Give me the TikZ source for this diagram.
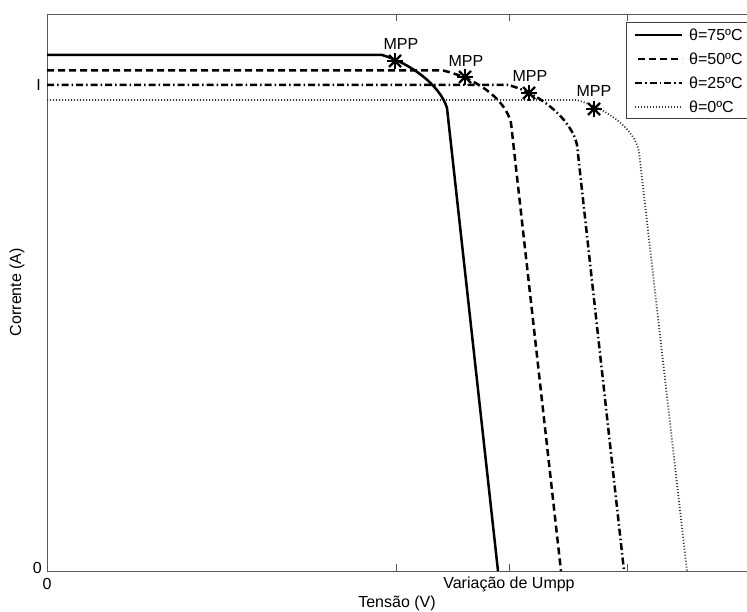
\documentclass[tikz,border=0pt]{standalone}
\usepackage{fontspec}
\setmainfont{Liberation Sans}
\usetikzlibrary{calc}
\begin{document}
\begin{tikzpicture}[x=1pt,y=-1pt,
  every node/.style={font=\fontsize{16}{18}\selectfont, inner sep=0pt},
  axisline/.style={draw=black!65, line width=0.9pt},
  tick/.style={draw=black!65, line width=0.8pt},
  c75/.style={line width=2.5pt, black},
  c50/.style={line width=2.5pt, black, dash pattern=on 7pt off 4pt},
  c25/.style={line width=2.5pt, black, dash pattern=on 7pt off 3pt on 1.5pt off 3pt},
  c0/.style={line width=1.8pt, black!80, dash pattern=on 1pt off 2pt},
  mppstar/.style={line width=2.2pt, black},
  legbox/.style={draw=black!75, fill=white, line width=0.9pt}]
\useasboundingbox (0,0) rectangle (747,612);
\clip (0,0) rectangle (747,612);
\fill[white] (0,0) rectangle (747,612);
% axes box
\draw[axisline] (47,14) rectangle (752,571);
\foreach \tx in {396,509,627}{
  \draw[tick] (\tx,14) -- (\tx,21);
  \draw[tick] (\tx,571) -- (\tx,564);
}
\draw[tick] (47,85) -- (54,85);
% curves
\draw[c0] (47,100) -- (577,100) .. controls (605,108) and (635,128) .. (639,152) -- (687,571);
\draw[c25] (47,85) -- (508,85) .. controls (540,93) and (572,120) .. (577,145) -- (624,571);
\draw[c50] (47,70.5) -- (443,70.5) .. controls (475,78) and (505,98) .. (511,123) -- (561,571);
\draw[c75] (47,55) -- (382,55) .. controls (410,63) and (440,85) .. (447,108) -- (498,571);
% MPP stars
\foreach \n/\sx/\sy in {s1/395/61, s2/465/77, s3/529/93, s4/594/109}{
  \coordinate (\n) at (\sx,\sy);
  \draw[mppstar] ($(\n)+(0,-8)$) -- ($(\n)+(0,8)$);
  \draw[mppstar] ($(\n)+(-8,0)$) -- ($(\n)+(8,0)$);
  \draw[mppstar] ($(\n)+(-6,-6)$) -- ($(\n)+(6,6)$);
  \draw[mppstar] ($(\n)+(-6,6)$) -- ($(\n)+(6,-6)$);
}
\node (m1) at (401,44) {MPP};
\node (m2) at (466,61) {MPP};
\node (m3) at (530,76) {MPP};
\node (m4) at (594,91) {MPP};
% tick labels
\node[anchor=east] (yI) at (41,85) {I};
\node[anchor=east] (y0) at (42,568) {0};
\node (x0) at (47,584) {0};
\node (xu) at (509,584) {Variação de Umpp};
\node (xl) at (397,603) {Tensão (V)};
\node[rotate=90] (yl) at (17,292) {Corrente (A)};
% legend
\draw[legbox] (626,22) rectangle (770,118);
\draw[c75] (635,35) -- (682,35);
\draw[c50] (638,59) -- (682,59);
\draw[c25] (635,83) -- (682,83);
\draw[c0] (635,107) -- (682,107);
\node[anchor=west] (l1) at (689,35) {θ=75ºC};
\node[anchor=west] (l2) at (689,59) {θ=50ºC};
\node[anchor=west] (l3) at (689,83) {θ=25ºC};
\node[anchor=west] (l4) at (689,107) {θ=0ºC};
\end{tikzpicture}
\end{document}
